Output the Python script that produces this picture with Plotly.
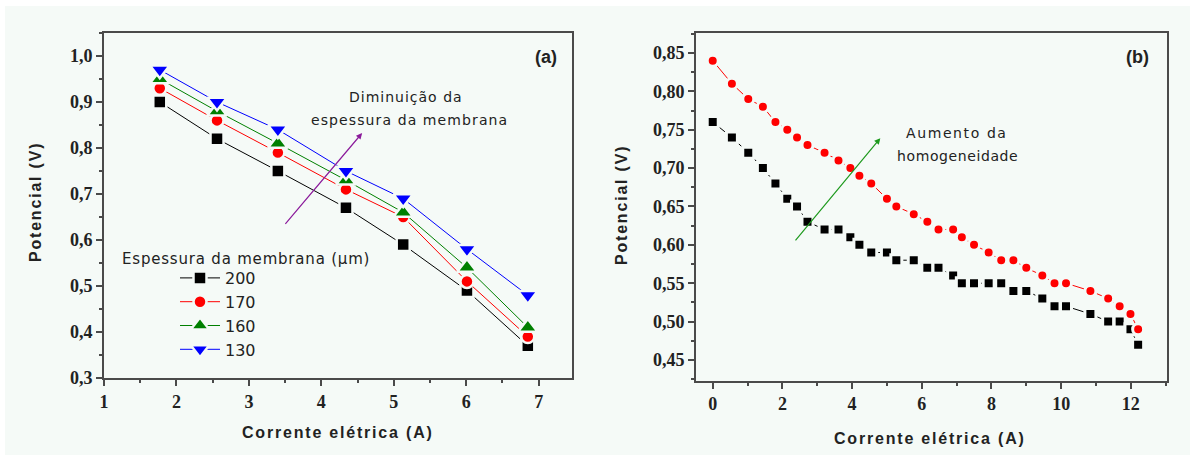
import plotly.graph_objects as go

# ---------- data (a) ----------
current_a = [1.77, 2.56, 3.40, 4.34, 5.13, 6.01, 6.85]
pot_200 = [0.90, 0.82, 0.75, 0.67, 0.59, 0.49, 0.37]
pot_170 = [0.93, 0.86, 0.79, 0.71, 0.65, 0.51, 0.39]
pot_160 = [0.95, 0.88, 0.81, 0.73, 0.66, 0.54, 0.41]
pot_130 = [0.97, 0.90, 0.84, 0.75, 0.69, 0.58, 0.48]
thickness_labels = ["200", "170", "160", "130"]

# ---------- data (b) ----------
current_b = [0.0, 0.55, 1.02, 1.44, 1.80, 2.14, 2.42, 2.72, 3.21, 3.61, 3.95,
             4.21, 4.55, 5.00, 5.27, 5.77, 6.16, 6.48, 6.90, 7.15, 7.50, 7.92,
             8.28, 8.63, 9.00, 9.46, 9.81, 10.14, 10.84, 11.35, 11.68, 11.99, 12.21]
pot_b_black = [0.76, 0.74, 0.72, 0.70, 0.68, 0.66, 0.65, 0.63, 0.62, 0.62, 0.61,
               0.60, 0.59, 0.59, 0.58, 0.58, 0.57, 0.57, 0.56, 0.55, 0.55, 0.55,
               0.55, 0.54, 0.54, 0.53, 0.52, 0.52, 0.51, 0.50, 0.50, 0.49, 0.47]
pot_b_red = [0.84, 0.81, 0.79, 0.78, 0.76, 0.75, 0.74, 0.73, 0.72, 0.71, 0.70,
             0.69, 0.68, 0.66, 0.65, 0.64, 0.63, 0.62, 0.62, 0.61, 0.60, 0.59,
             0.58, 0.58, 0.57, 0.56, 0.55, 0.55, 0.54, 0.53, 0.52, 0.51, 0.49]

W, H = 1190, 455
BG = "#F5FAF7"
AX = "#4a4a4a"

def px(x):
    return x / W

def py(y):
    return 1 - y / H

def spaced(t, s):
    return '<span style="letter-spacing:%spx">%s</span>' % (s, t)

fig = go.Figure()

series_a = [
    (pot_200, "black", "square", 13),
    (pot_170, "red", "circle", 13),
    (pot_160, "#008000", "triangle-up", 17),
    (pot_130, "blue", "triangle-down", 17),
]
for (vals, col, sym, sz), lab in zip(series_a, thickness_labels):
    fig.add_trace(go.Scatter(
        x=current_a, y=vals, mode="lines+markers", name=lab,
        line=dict(color=col, width=1),
        marker=dict(color=col, symbol=sym, size=sz, line=dict(color=BG, width=2.5)),
        xaxis="x", yaxis="y", showlegend=True))

fig.add_trace(go.Scatter(
    x=current_b, y=pot_b_black, mode="lines+markers", showlegend=False,
    line=dict(color="black", width=1),
    marker=dict(color="black", symbol="square", size=11, line=dict(color=BG, width=3)),
    xaxis="x2", yaxis="y2"))
fig.add_trace(go.Scatter(
    x=current_b, y=pot_b_red, mode="lines+markers", showlegend=False,
    line=dict(color="red", width=1),
    marker=dict(color="red", symbol="circle", size=11, line=dict(color=BG, width=3)),
    xaxis="x2", yaxis="y2"))

tickfont = dict(family="Liberation Serif", size=18, color="#222222", weight="bold")
common = dict(showline=True, linecolor=AX, linewidth=2, mirror=True, ticks="outside",
              ticklen=6, tickwidth=1.5, tickcolor=AX, showgrid=False, zeroline=False,
              tickfont=tickfont, automargin=False)

fig.update_layout(
    width=W, height=H, margin=dict(l=0, r=0, t=0, b=0),
    paper_bgcolor=BG, plot_bgcolor=BG, separators=",.",
    xaxis=dict(domain=[px(104), px(572)], range=[1, 7.46], dtick=1, tick0=1,
               minor=dict(dtick=0.5, ticklen=3, tickcolor=AX, ticks="outside"),
               anchor="y", **common),
    yaxis=dict(domain=[py(378), py(33)], range=[0.3, 1.05], dtick=0.1, tick0=0.3,
               tickformat=".1f",
               minor=dict(dtick=0.05, ticklen=3, tickcolor=AX, ticks="outside"),
               anchor="x", **common),
    xaxis2=dict(domain=[px(696), px(1166.7)], range=[-0.48, 13.03], dtick=2, tick0=0,
                minor=dict(dtick=1, ticklen=3, tickcolor=AX, ticks="outside"),
                anchor="y2", **common),
    yaxis2=dict(domain=[py(380.7), py(33)], range=[0.423, 0.876], dtick=0.05, tick0=0.45,
                tickformat=".2f",
                minor=dict(dtick=0.025, ticklen=3, tickcolor=AX, ticks="outside"),
                anchor="x2", **common),
    legend=dict(x=px(175), y=py(261), xanchor="left", yanchor="top",
                bgcolor="rgba(0,0,0,0)", font=dict(family="DejaVu Sans", size=16, color="#222"),
                tracegroupgap=0, itemwidth=40),
    shapes=[
        dict(type="rect", xref="paper", yref="paper", x0=0, x1=1, y0=py(6), y1=1,
             fillcolor="white", line=dict(width=0), layer="below"),
        dict(type="rect", xref="paper", yref="paper", x0=0, x1=px(5), y0=0, y1=1,
             fillcolor="white", line=dict(width=0), layer="below"),
    ],
)

title_font = dict(family="Liberation Sans", size=16, color="#222222", weight="bold")
text_font = dict(family="DejaVu Sans", size=14, color="#222222")
anns = [
    dict(x=px(35), y=py(202), text=spaced("Potencial (V)", 1.8), textangle=-90, font=title_font),
    dict(x=px(338), y=py(432), text=spaced("Corrente elétrica (A)", 1.8), font=title_font),
    dict(x=px(622), y=py(205), text=spaced("Potencial (V)", 1.8), textangle=-90, font=title_font),
    dict(x=px(930), y=py(438), text=spaced("Corrente elétrica (A)", 1.8), font=title_font),
    dict(x=px(546), y=py(57), text="(a)", font=dict(family="Liberation Sans", size=18, color="#222", weight="bold")),
    dict(x=px(1137), y=py(57), text="(b)", font=dict(family="Liberation Sans", size=18, color="#222", weight="bold")),
    dict(x=px(406), y=py(97), text=spaced("Diminuição da", 1.0), font=text_font),
    dict(x=px(409), y=py(120), text=spaced("espessura da membrana", 1.1), font=text_font),
    dict(x=px(957), y=py(133), text=spaced("Aumento da", 1.6), font=text_font),
    dict(x=px(957), y=py(156), text=spaced("homogeneidade", 0.6), font=text_font),
    dict(x=px(120), y=py(259), text=spaced("Espessura da membrana (µm)", 0.8), xanchor="left",
         font=dict(family="DejaVu Sans", size=15, color="#222")),
]
for a in anns:
    a.setdefault("xanchor", "center")
    fig.add_annotation(xref="paper", yref="paper", showarrow=False, yanchor="middle", **a)

# arrows
fig.add_annotation(xref="x", yref="y", axref="x", ayref="y", x=4.563, y=0.8325,
                   ax=3.486, ay=0.632, showarrow=True, arrowhead=2, arrowsize=1,
                   arrowwidth=1.2, arrowcolor="#8B1A9B", text="")
fig.add_annotation(xref="x2", yref="y2", axref="x2", ayref="y2", x=4.81, y=0.739,
                   ax=2.34, ay=0.604, showarrow=True, arrowhead=2, arrowsize=1,
                   arrowwidth=1.2, arrowcolor="#1E9A1E", text="")

fig.write_html("out.html", config={"displayModeBar": False},
               post_script="document.body.style.margin='0';document.body.style.overflow='hidden';")
